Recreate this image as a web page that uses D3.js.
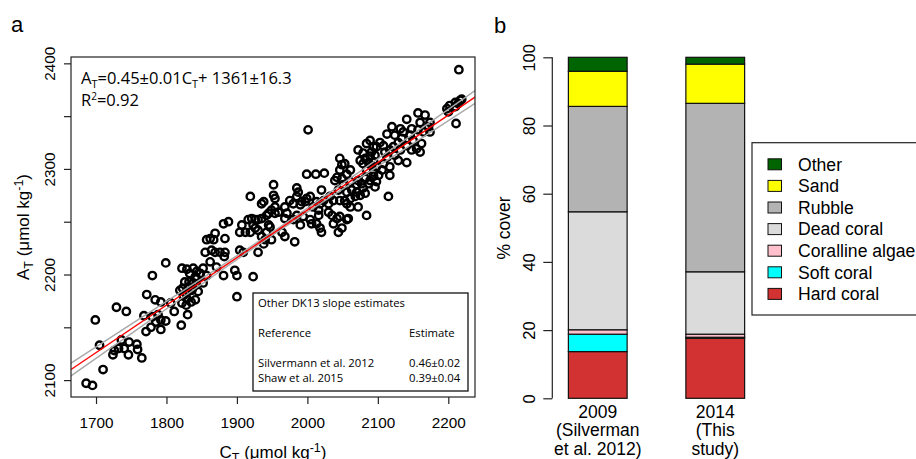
<!DOCTYPE html>
<html>
<head>
<meta charset="utf-8">
<script src="https://cdn.jsdelivr.net/npm/d3@7"></script>
<style>
  body { margin: 0; background: #fff; }
  svg { display: block; }
  .helv { font-family: "Liberation Sans", Arial, Helvetica, sans-serif; }
  .myr { font-family: "Open Sans", "Noto Sans", sans-serif; }
</style>
</head>
<body>
<script>
// ---------- Panel a: total alkalinity vs dissolved inorganic carbon ----------
const ctValues = [
  1799,1780,1822,1829,1843,1832,1843,1772,1784,1792,1806,1729,1743,1811,1830,1699,1768,1780,1788,1792,
  1799,1785,1821,1778,1792,1771,1705,1736,1747,1758,1740,1726,1724,1759,1746,1765,1710,1686,1695,1828,
  1837,1842,1835,1841,1828,1732,1823,
  1952,1952,1954,1919,1935,1938,1968,1954,1949,1954,1945,1959,1921,1916,1926,1935,1907,1904,1912,1919,
  1926,1930,1923,1942,1947,1881,1888,1869,1883,1857,1862,1867,1964,1949,1938,1930,1935,1855,1864,1869,
  1876,1883,1904,1909,1862,1838,1852,1833,1841,1848,1857,1881,1897,1900,1923,1826,1831,1838,1852,1836,
  1845,1819,1824,1829,1822,1900,1871,1882,
  2001,1999,2012,2024,2046,2049,2046,2049,2042,2039,2061,2061,2063,2070,2072,2072,2079,2084,2089,2091,
  2075,2082,2094,2089,2096,2098,2094,2096,2087,2079,2075,2070,2068,2082,2084,2072,2061,2056,2053,2061,
  2046,2051,2044,2020,2023,2030,2013,2037,2032,1985,1987,1985,1975,1980,1990,1992,1997,1999,2004,2008,
  2016,2018,1942,1968,1980,1985,1990,1994,2004,2006,2013,2016,2018,2030,2035,2042,2046,2056,2058,2044,
  2037,2049,1930,1945,1940,1968,1982,2020,1971,
  2215,2202,2210,2217,2219,2198,2200,2210,2214,2211,2157,2167,2174,2160,2172,2165,2141,2148,2157,2174,
  2120,2132,2136,2113,2124,2134,2146,2150,2162,2155,2160,2141,2148,2129,2122,2132,2094,2103,2108,2110,
  2117,2113,2124,2129,2141,2108,2117,2106,2117,2087,2079,2091,2098,2084,2094,2101,2089,2098,2082,2077,
  2053,2056,2056,2115
];
const atValues = [
  2211,2199,2206,2205,2203,2193,2196,2181,2176,2174,2173,2169,2165,2165,2162,2157,2161,2160,2162,2157,
  2156,2155,2152,2150,2148,2146,2133,2138,2136,2134,2130,2128,2124,2129,2124,2121,2110,2097,2095,2182,
  2187,2190,2174,2176,2171,2130,2187,
  2285,2275,2272,2274,2267,2269,2264,2264,2261,2258,2258,2259,2253,2252,2252,2253,2247,2240,2240,2240,
  2244,2242,2247,2240,2245,2248,2250,2239,2234,2233,2234,2233,2240,2233,2229,2221,2236,2221,2223,2221,
  2221,2221,2223,2221,2212,2206,2206,2201,2198,2201,2199,2199,2204,2199,2198,2193,2188,2192,2192,2185,
  2184,2185,2180,2177,2173,2179,2207,2217,
  2337,2295,2295,2296,2310,2304,2299,2291,2292,2289,2299,2288,2280,2285,2289,2318,2315,2324,2327,2316,
  2308,2310,2307,2312,2313,2321,2293,2283,2286,2282,2275,2278,2274,2277,2256,2264,2272,2278,2270,2264,
  2270,2285,2280,2280,2270,2267,2269,2270,2274,2282,2278,2274,2270,2267,2266,2269,2269,2272,2274,2264,
  2261,2267,2256,2253,2252,2256,2247,2255,2252,2248,2248,2256,2244,2259,2256,2253,2255,2252,2253,2240,
  2248,2244,2252,2247,2233,2236,2231,2240,2258,
  2394,2360,2363,2365,2366,2357,2354,2359,2362,2343,2353,2351,2344,2344,2340,2335,2347,2338,2337,2335,
  2340,2338,2335,2333,2332,2329,2332,2327,2324,2319,2316,2322,2318,2325,2321,2318,2321,2325,2322,2316,
  2318,2311,2313,2308,2306,2305,2302,2299,2294,2306,2305,2303,2302,2299,2297,2294,2289,2288,2291,2286,
  2305,2295,2267,2274
];

// Fitted relationship A_T = slope * C_T + intercept
const fitSlope = 0.45;
const fitIntercept = 1361;
// Confidence band half-width (µmol kg-1) along C_T
const bandCt = [1664, 1750, 1850, 1950, 2050, 2150, 2238];
const bandHalfWidth = [6.0, 4.5, 2.6, 1.5, 2.6, 4.5, 6.0];

const xTickValues = [1700, 1800, 1900, 2000, 2100, 2200];
const yTickValues = [2100, 2150, 2200, 2250, 2300, 2350, 2400];
const yTickLabels = ["2100", "", "2200", "", "2300", "", "2400"];

const otherEstimates = ["Silvermann et al. 2012", "Shaw et al. 2015"];
const otherSlopes = ["0.46\u00b10.02", "0.39\u00b10.04"];

// ---------- Panel b: benthic cover ----------
const surveyYears = ["2009", "2014"];
const surveyLabels = [["2009", "(Silverman", "et al. 2012)"], ["2014", "(This", "study)"]];
const coverClasses = ["Hard coral", "Soft coral", "Coralline algae", "Dead coral", "Rubble", "Sand", "Other"];
const coverColors = ["#d33232", "#00ffff", "#ffc0cb", "#dbdbdb", "#b3b3b3", "#ffff00", "#006400"];
const cover2009 = [13.7, 5.1, 1.3, 34.6, 30.9, 10.3, 4.1];
const cover2014 = [17.6, 0.3, 0.9, 18.3, 49.4, 11.5, 2.0];
const coverTicks = [0, 20, 40, 60, 80, 100];

const svg = d3.select("body").append("svg").attr("width", 916).attr("height", 459);

// ===== Panel a =====
const box = { left: 71, right: 475, top: 57, bottom: 397 };
const x = d3.scaleLinear().domain([1664.5, 2237.9]).range([box.left, box.right]);
const y = d3.scaleLinear().domain([2084, 2406]).range([box.bottom, box.top]);

svg.append("text").attr("class", "helv").attr("x", 11).attr("y", 32)
  .attr("font-size", 22).text("a");

svg.append("defs").append("clipPath").attr("id", "plotclip")
  .append("rect").attr("x", box.left).attr("y", box.top)
  .attr("width", box.right - box.left).attr("height", box.bottom - box.top);

const pa = svg.append("g");

// points
pa.append("g").selectAll("circle")
  .data(ctValues.map((c, i) => [c, atValues[i]]))
  .join("circle")
  .attr("cx", d => x(d[0])).attr("cy", d => y(d[1]))
  .attr("r", 3.7).attr("fill", "none").attr("stroke", "#000").attr("stroke-width", 2.4);

// regression line and confidence band
const fitAt = c => fitSlope * c + fitIntercept;
const bandLine = sign => d3.line()
  .x((c) => x(c))
  .y((c, i) => y(fitAt(c) + sign * bandHalfWidth[i]))
  .curve(d3.curveNatural);
const lines = pa.append("g").attr("clip-path", "url(#plotclip)");
[1, -1].forEach(s => {
  lines.append("path").attr("d", bandLine(s)(bandCt))
    .attr("fill", "none").attr("stroke", "#a8a8a8").attr("stroke-width", 1.4);
});
lines.append("line")
  .attr("x1", x(1664.5)).attr("y1", y(fitAt(1664.5)))
  .attr("x2", x(2237.9)).attr("y2", y(fitAt(2237.9)))
  .attr("stroke", "#ff0000").attr("stroke-width", 1.4);

// frame
pa.append("rect").attr("x", box.left).attr("y", box.top)
  .attr("width", box.right - box.left).attr("height", box.bottom - box.top)
  .attr("fill", "none").attr("stroke", "#222").attr("stroke-width", 1.2);

// axes
const xAxis = d3.axisBottom(x).tickValues(xTickValues).tickSize(7).tickSizeOuter(0).tickFormat(d3.format("d"));
const gx = pa.append("g").attr("transform", `translate(0,${box.bottom})`).call(xAxis);
gx.select(".domain").remove();
gx.selectAll("line").attr("stroke", "#222").attr("stroke-width", 1.2);
gx.selectAll("text").attr("class", "helv").attr("font-size", 15.3).attr("fill", "#000")
  .attr("y", 0).attr("dy", 0).attr("transform", "translate(0,31)");

const yAxis = d3.axisLeft(y).tickValues(yTickValues).tickSize(7).tickSizeOuter(0)
  .tickFormat((d, i) => yTickLabels[i]);
const gy = pa.append("g").attr("transform", `translate(${box.left},0)`).call(yAxis);
gy.select(".domain").remove();
gy.selectAll("line").attr("stroke", "#222").attr("stroke-width", 1.2);
gy.selectAll("text").attr("class", "helv").attr("font-size", 15.3).attr("fill", "#000")
  .attr("x", 0).attr("dy", 0).attr("text-anchor", "middle")
  .attr("transform", "translate(-16,0) rotate(-90)");

// axis titles
const xt = svg.append("text").attr("class", "helv").attr("font-size", 17)
  .attr("x", (box.left + box.right) / 2).attr("y", 458).attr("text-anchor", "middle");
xt.append("tspan").text("C");
xt.append("tspan").attr("font-size", 12.5).attr("dy", 4).text("T");
xt.append("tspan").attr("dy", -4).text(" (\u03bcmol kg");
xt.append("tspan").attr("font-size", 12.5).attr("dy", -6).text("-1");
xt.append("tspan").attr("dy", 6).text(")");

const yt = svg.append("text").attr("class", "helv").attr("font-size", 17)
  .attr("text-anchor", "middle")
  .attr("transform", `translate(29,${(box.top + box.bottom) / 2}) rotate(-90)`);
yt.append("tspan").text("A");
yt.append("tspan").attr("font-size", 12.5).attr("dy", 4).text("T");
yt.append("tspan").attr("dy", -4).text(" (\u03bcmol kg");
yt.append("tspan").attr("font-size", 12.5).attr("dy", -6).text("-1");
yt.append("tspan").attr("dy", 6).text(")");

// fit annotation
const eq = svg.append("text").attr("class", "myr").attr("font-size", 16.5).attr("x", 81).attr("y", 84);
eq.append("tspan").text("A");
eq.append("tspan").attr("font-size", 11).attr("dy", 4).text("T");
eq.append("tspan").attr("dy", -4).text(`=${fitSlope.toFixed(2)}\u00b10.01C`);
eq.append("tspan").attr("font-size", 11).attr("dy", 4).text("T");
eq.append("tspan").attr("dy", -4).text(`+ ${fitIntercept}\u00b116.3`);
const r2 = svg.append("text").attr("class", "myr").attr("font-size", 16.5).attr("x", 81).attr("y", 106);
r2.append("tspan").text("R");
r2.append("tspan").attr("font-size", 10).attr("dy", -6).text("2");
r2.append("tspan").attr("dy", 6).text("=0.92");

// inset table of other slope estimates
const inset = svg.append("g").attr("class", "myr").attr("font-size", 11.3);
inset.append("rect").attr("x", 253).attr("y", 293).attr("width", 215).attr("height", 98)
  .attr("fill", "#fff").attr("stroke", "#111").attr("stroke-width", 1.3);
inset.append("text").attr("x", 258).attr("y", 307).text("Other DK13 slope estimates");
inset.append("text").attr("x", 258).attr("y", 337).text("Reference");
inset.append("text").attr("x", 409).attr("y", 337).text("Estimate");
otherEstimates.forEach((r, i) => {
  inset.append("text").attr("x", 258).attr("y", 367 + i * 14.7).text(r);
  inset.append("text").attr("x", 409).attr("y", 367 + i * 14.7).text(otherSlopes[i]);
});

// ===== Panel b =====
svg.append("text").attr("class", "helv").attr("x", 494).attr("y", 33)
  .attr("font-size", 22).text("b");

const yb = d3.scaleLinear().domain([0, 100]).range([398.3, 57.3]);
const xb = d3.scaleBand().domain(surveyYears).range([539, 774]).paddingInner(0.5).paddingOuter(0.25);

const gyb = svg.append("g").attr("transform", "translate(552.3,0)")
  .call(d3.axisLeft(yb).tickValues(coverTicks).tickSize(9).tickSizeOuter(0));
gyb.select(".domain").attr("stroke", "#222").attr("stroke-width", 1.2)
  .attr("d", `M0,${yb(0)}V${yb(100)}`);
gyb.selectAll("line").attr("stroke", "#222").attr("stroke-width", 1.2);
gyb.selectAll("text").attr("class", "helv").attr("font-size", 16.5).attr("fill", "#000")
  .attr("x", 0).attr("dy", 0).attr("text-anchor", "middle")
  .attr("transform", "translate(-17,0) rotate(-90)");

svg.append("text").attr("class", "helv").attr("font-size", 17.5).attr("text-anchor", "middle")
  .attr("transform", `translate(510,228) rotate(-90)`).text("% cover");

const coverTable = surveyYears.map((yr, j) => {
  const vals = j === 0 ? cover2009 : cover2014;
  const row = { year: yr };
  coverClasses.forEach((c, i) => { row[c] = vals[i]; });
  return row;
});
const stacked = d3.stack().keys(coverClasses)(coverTable);
const color = d3.scaleOrdinal().domain(coverClasses).range(coverColors);

svg.append("g").selectAll("g").data(stacked).join("g")
  .attr("fill", d => color(d.key))
  .selectAll("rect").data(d => d).join("rect")
  .attr("x", d => xb(d.data.year)).attr("width", xb.bandwidth())
  .attr("y", d => yb(d[1])).attr("height", d => yb(d[0]) - yb(d[1]))
  .attr("stroke", "#111").attr("stroke-width", 1.2);

surveyYears.forEach((yr, j) => {
  const cx = xb(yr) + xb.bandwidth() / 2;
  const lineY = [418, 436, 455];
  surveyLabels[j].forEach((t, k) => {
    svg.append("text").attr("class", "helv").attr("font-size", 17.5)
      .attr("x", cx).attr("y", lineY[k]).attr("text-anchor", "middle").text(t);
  });
});

// legend
const lg = svg.append("g").attr("class", "helv");
lg.append("rect").attr("x", 752).attr("y", 142.7).attr("width", 180).attr("height", 172.3)
  .attr("fill", "#fff").attr("stroke", "#222").attr("stroke-width", 1.2);
const legendOrder = coverClasses.slice().reverse();
legendOrder.forEach((c, i) => {
  const cy = 164.3 + i * 21.6;
  lg.append("rect").attr("x", 768).attr("y", cy - 5.5).attr("width", 13.5).attr("height", 11)
    .attr("fill", color(c)).attr("stroke", "#111").attr("stroke-width", 1);
  lg.append("text").attr("x", 798).attr("y", cy + 6.2).attr("font-size", 17.6).text(c);
});
</script>
</body>
</html>
